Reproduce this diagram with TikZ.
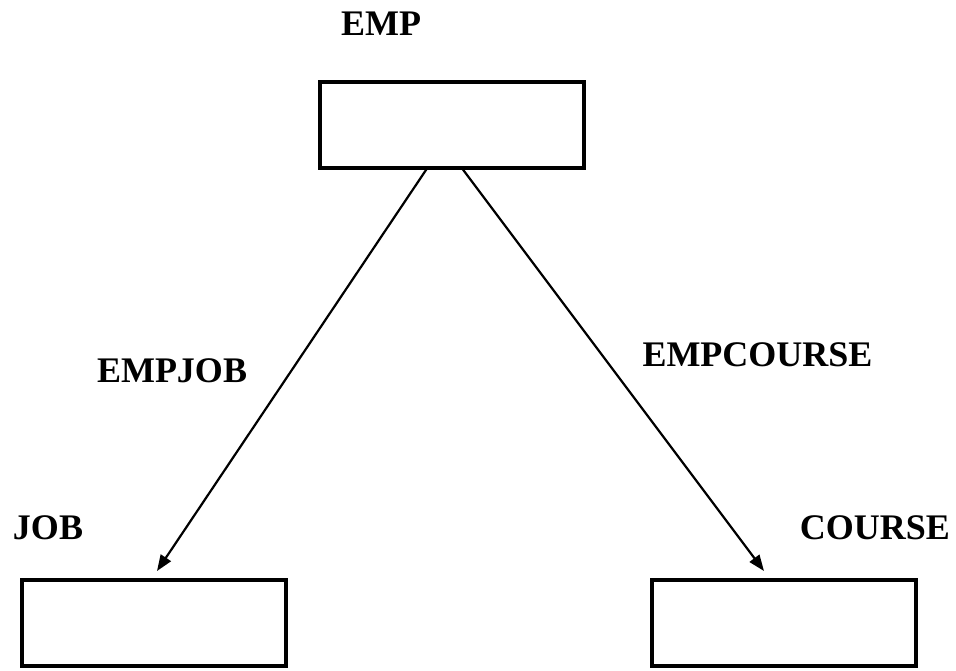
\documentclass[tikz,border=0pt]{standalone}
\usepackage{fontspec}
\setmainfont{Liberation Serif}
\usetikzlibrary{arrows.meta}
\begin{document}
\begin{tikzpicture}[x=1pt,y=-1pt,
  entity/.style={draw, line width=4pt, minimum width=264pt, minimum height=86pt, inner sep=0pt},
  lbl/.style={font=\fontsize{36}{40}\selectfont\bfseries, inner sep=0pt, anchor=center},
  rel/.style={line width=2.2pt, -{Triangle[length=16pt,width=12pt]}}]
\useasboundingbox (0,0) rectangle (956,670);
\node[entity] (emp) at (452,124.5) {};
\node[entity] (job) at (153.5,623) {};
\node[entity] (course) at (783.5,623) {};
\node[lbl] (lemp) at (381,24) {EMP};
\node[lbl] (ljob) at (48,528) {JOB};
\node[lbl] (lcourse) at (875,528) {COURSE};
\node[lbl] (lempjob) at (172,371) {EMPJOB};
\node[lbl] (lempcourse) at (757.5,355) {EMPCOURSE};
\coordinate (s1) at (428,167);
\coordinate (s2) at (461,167);
\coordinate (t1) at (157,571);
\coordinate (t2) at (764,571);
\draw[rel] (s1) -- (t1);
\draw[rel] (s2) -- (t2);
\end{tikzpicture}
\end{document}
